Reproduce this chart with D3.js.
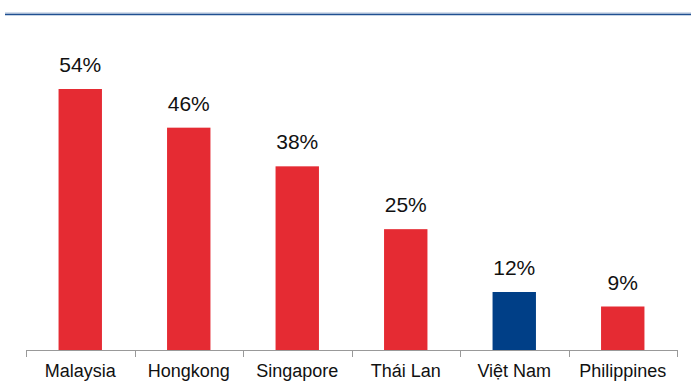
<!DOCTYPE html>
<html>
<head>
    <script src="https://d3js.org/d3.v7.min.js"></script>
    <style>
        body { margin: 0; background: #fff; }
        text { font-family: "Liberation Sans", Arial, sans-serif; fill: #111; }
    </style>
</head>
<body>
    <div id="chart"></div>
    <script>
        const categories = ["Malaysia", "Hongkong", "Singapore", "Thái Lan", "Việt Nam", "Philippines"];
        const values = [54, 46, 38, 25, 12, 9];
        const highlight = "Việt Nam";

        const width = 691, height = 382;
        const left = 26, right = 677, base = 350;

        const svg = d3.select("#chart").append("svg")
            .attr("width", width)
            .attr("height", height);

        // top rule
        svg.append("line").attr("x1", 5).attr("x2", width).attr("y1", 13).attr("y2", 13)
            .attr("stroke", "#a9bcd8").attr("stroke-width", 1);
        svg.append("line").attr("x1", 5).attr("x2", width).attr("y1", 14.5).attr("y2", 14.5)
            .attr("stroke", "#1f4f91").attr("stroke-width", 1.5);

        const x = d3.scaleBand().domain(categories).range([left, right]).paddingInner(0.6).paddingOuter(0.3);
        const y = d3.scaleLinear().domain([0, 54]).range([base, 89]);

        svg.selectAll("rect.bar")
            .data(categories)
            .enter().append("rect")
            .attr("class", "bar")
            .attr("x", d => x(d))
            .attr("width", x.bandwidth())
            .attr("y", (d, i) => y(values[i]))
            .attr("height", (d, i) => base - y(values[i]))
            .attr("fill", d => d === highlight ? "#003f87" : "#e52b33");

        svg.selectAll("text.val")
            .data(categories)
            .enter().append("text")
            .attr("class", "val")
            .attr("x", d => x(d) + x.bandwidth() / 2)
            .attr("y", (d, i) => y(values[i]) - 17)
            .attr("text-anchor", "middle")
            .style("font-size", "21px")
            .text((d, i) => values[i] + "%");

        // axis with tick marks between categories
        const step = (right - left) / categories.length;
        const axis = svg.append("g");
        axis.append("line").attr("x1", left).attr("x2", right).attr("y1", base + 0.5).attr("y2", base + 0.5)
            .attr("stroke", "#999");
        axis.selectAll("line.tick")
            .data(d3.range(categories.length + 1))
            .enter().append("line")
            .attr("class", "tick")
            .attr("x1", i => Math.round(left + i * step) + 0.5)
            .attr("x2", i => Math.round(left + i * step) + 0.5)
            .attr("y1", base)
            .attr("y2", base + 7)
            .attr("stroke", "#999");

        axis.selectAll("text.cat")
            .data(categories)
            .enter().append("text")
            .attr("class", "cat")
            .attr("x", d => x(d) + x.bandwidth() / 2)
            .attr("y", 377)
            .attr("text-anchor", "middle")
            .style("font-size", "18px")
            .text(d => d);
    </script>
</body>
</html>
